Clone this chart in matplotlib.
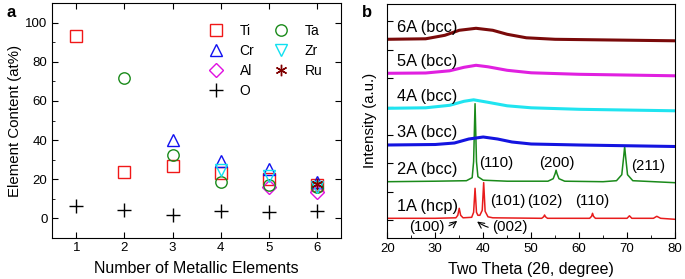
import numpy as np
import matplotlib.pyplot as plt
from matplotlib.ticker import MultipleLocator

plt.rcParams['font.family'] = ['Liberation Sans', 'DejaVu Sans']

# ---- panel a: composition vs number of metallic elements
n_elem = [1, 2, 3, 4, 5, 6]
ti = [93.5, 23.4, 26.8, 23.0, 20.0, 17.0]
ta = [None, 72.0, 32.4, 18.3, 17.0, 16.0]
cr = [None, None, 39.8, 29.4, 25.0, 18.5]
zr = [None, None, None, 24.5, 21.5, 16.0]
al = [None, None, None, None, 15.7, 13.3]
ru = [None, None, None, None, None, 17.5]
o = [6.3, 4.3, 1.4, 3.6, 2.9, 3.8]

# ---- panel b: XRD patterns (intensity above each baseline)
tt_1a = [20, 30, 34.3, 34.7, 35.0, 35.3, 35.8, 37.6, 38.0, 38.3, 38.6, 38.9, 39.3,
         39.8, 40.1, 40.4, 41.0, 42, 52.2, 52.6, 52.8, 53.0, 53.4, 62.2, 62.6,
         62.8, 63.0, 63.4, 70.0, 70.5, 71.0, 75.5, 76.2, 77.0, 80]
i_1a = [0, 0, 0.5, 3, 10, 3, 0.5, 1, 6, 30, 6, 3, 3,
        8, 35.7, 7, 1.5, 0.5, 0, 1.5, 3.3, 1.5, 0, 0, 2,
        5, 2, 0, 0, 2.5, 0, 0, 2, 0, -1]
tt_2a = [20, 30, 36.5, 37.7, 38.0, 38.3, 38.6, 38.9, 40, 45, 53.5, 54.6, 55.0, 55.2,
         55.4, 55.8, 57, 65, 67.8, 68.9, 69.3, 69.5, 69.7, 70.1, 71.2, 80]
i_2a = [0, 0.5, 1, 4, 20, 78, 20, 5, 1.5, 0.5, 0.5, 3, 8, 11.5,
        8, 3, 0.5, 0, 1, 7, 25, 35, 25, 7, 1, -1]
tt_3a = [20, 30, 34, 37, 40, 43, 46, 50, 60, 80]
i_3a = [0, 0.5, 2, 6, 8, 6, 3, 1, 0, -1.5]
tt_4a = [20, 28, 33, 36, 38, 41, 45, 50, 60, 80]
i_4a = [0, 0.5, 3, 7, 8.5, 6, 2.5, 0.5, -1, -2.5]
tt_5a = [20, 28, 33, 36, 38.5, 41, 45, 50, 60, 80]
i_5a = [0, 0.3, 2.5, 6, 8, 6.5, 3, 0.5, -1, -2.5]
tt_6a = [20, 28, 32, 35, 38.5, 42, 45, 49, 55, 80]
i_6a = [0, 0.5, 4, 9, 11, 9, 5, 1.5, 0, -1.5]
samples = ['1A (hcp)', '2A (bcc)', '3A (bcc)', '4A (bcc)', '5A (bcc)', '6A (bcc)']
offsets = [19.4, 56, 92.7, 129.4, 164.4, 198.4]

fig = plt.figure(figsize=(6.85, 2.79), dpi=100)
ax1 = fig.add_axes([0.0764, 0.1487, 0.4214, 0.8388])
ax2 = fig.add_axes([0.5654, 0.148, 0.42, 0.8377])

mk = dict(linestyle='none', markerfacecolor='none', markeredgewidth=1)
series = [
    ('Ti', ti, 's', '#f01818'),
    ('Cr', cr, '^', '#1010f0'),
    ('Al', al, 'D', '#e010e0'),
    ('O', o, '+', 'black'),
    ('Ta', ta, 'o', '#1a8a1a'),
    ('Zr', zr, 'v', '#10e0f0'),
    ('Ru', ru, (6, 2, 0), '#800000'),
]
for name, vals, m, c in series:
    xs = [x for x, v in zip(n_elem, vals) if v is not None]
    ys = [v for v in vals if v is not None]
    ms = 7 if m == 'D' else (9.5 if m == '+' else 8.2)
    ax1.plot(xs, ys, marker=m, color=c, label=name, markersize=ms, **mk)

ax1.set_xlim(0.5, 6.5)
ax1.set_ylim(-10, 110)
ax1.set_xticks(n_elem)
ax1.set_yticks(range(0, 101, 20))
ax1.yaxis.set_minor_locator(MultipleLocator(10))
ax1.tick_params(direction='in', top=True, right=True, labelsize=9.5, length=4)
ax1.tick_params(which='minor', direction='in', left=True, right=False, length=2.5)
ax1.set_xlabel('Number of Metallic Elements', fontsize=11.5, labelpad=5)
ax1.set_ylabel('Element Content (at%)', fontsize=10.8, labelpad=2)
ax1.legend(ncol=2, loc='upper left', bbox_to_anchor=(0.5, 0.935), frameon=False,
           fontsize=10, handletextpad=0.7, columnspacing=0.9, labelspacing=0.42,
           borderaxespad=0)
fig.text(0.010, 0.938, 'a', fontsize=12, fontweight='bold')

# ---- panel b
curves = [(tt_1a, i_1a, '#e81c1c', 1.1), (tt_2a, i_2a, '#1a8a1a', 1.1),
          (tt_3a, i_3a, '#1414e0', 2.2), (tt_4a, i_4a, '#20e4f0', 2.2),
          (tt_5a, i_5a, '#e020e0', 2.2), (tt_6a, i_6a, '#7a0a0a', 2.2)]
for (tt, inten, c, lw), off, lab in zip(curves, offsets, samples):
    ax2.plot(tt, np.array(inten) + off, color=c, lw=lw)
    ax2.text(22, off + 12, lab, fontsize=11.8, va='center', ha='left')

peak_labels = [('(110)', 42.8, 74.4), ('(200)', 55.3, 74.4), ('(211)', 74.4, 72),
               ('(101)', 45.2, 36.7), ('(102)', 52.9, 36.7), ('(110)', 62.7, 36.7)]
for s, x, y in peak_labels:
    ax2.text(x, y, s, fontsize=10.8, ha='center', va='center')
ax2.annotate('(100)', xy=(34.8, 17.7), xytext=(28.3, 10.4), fontsize=10.8,
             ha='center', va='center',
             arrowprops=dict(arrowstyle='->', lw=0.8, color='black',
                             connectionstyle='arc3,rad=0.25', shrinkA=1, shrinkB=1))
ax2.annotate('(002)', xy=(38.5, 17.0), xytext=(45.6, 10.4), fontsize=10.8,
             ha='center', va='center',
             arrowprops=dict(arrowstyle='->', lw=0.8, color='black',
                             connectionstyle='arc3,rad=-0.25', shrinkA=1, shrinkB=1))

ax2.set_xlim(20, 80)
ax2.set_ylim(0, 233.7)
ax2.set_xticks(range(20, 81, 10))
ax2.xaxis.set_minor_locator(MultipleLocator(5))
ax2.set_yticks(np.arange(17.5, 230, 28.4))
ax2.set_yticklabels([])
ax2.tick_params(direction='in', labelsize=9.5, length=4)
ax2.tick_params(which='minor', direction='in', length=2.5)
ax2.set_xlabel('Two Theta (2\u03b8, degree)', fontsize=11.5, labelpad=5)
ax2.set_ylabel('Intensity (a.u.)', fontsize=10.8, labelpad=4)
fig.text(0.528, 0.938, 'b', fontsize=12, fontweight='bold')

fig.savefig('out.png', dpi=100)
